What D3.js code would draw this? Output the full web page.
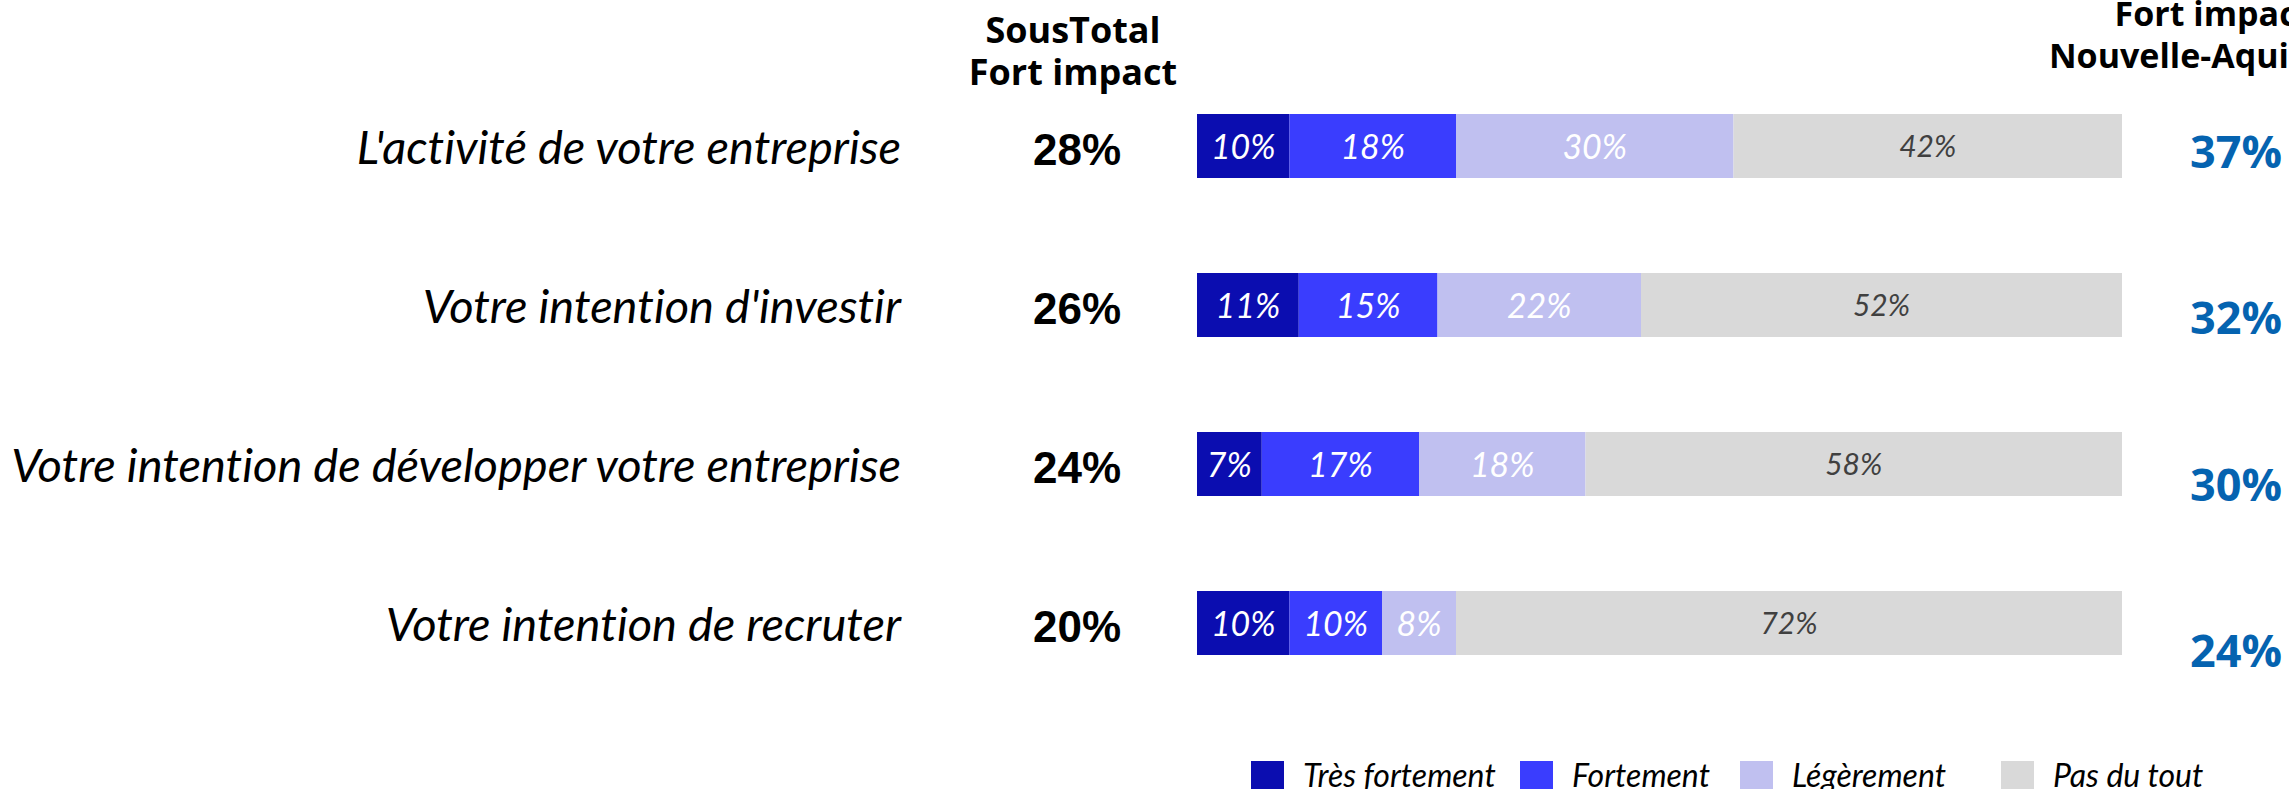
<!DOCTYPE html>
<html>
<head>
<meta charset="utf-8">
<script src="https://cdn.jsdelivr.net/npm/d3@7"></script>
<style>
  html, body { margin: 0; padding: 0; background: #fff; overflow: hidden; }
  svg { display: block; }
  text { font-variant-ligatures: none; font-feature-settings: "liga" 0; }
</style>
</head>
<body>
<svg id="chart" width="2289" height="789"></svg>
<script>
// ---- Data ----
const categories = [
  "L'activité de votre entreprise",
  "Votre intention d'investir",
  "Votre intention de développer votre entreprise",
  "Votre intention de recruter"
];
const seriesNames = ["Très fortement", "Fortement", "Légèrement", "Pas du tout"];
const tresFortement = [10, 11, 7, 10];
const fortement = [18, 15, 17, 10];
const legerement = [30, 22, 18, 8];
const pasDuTout = [42, 52, 58, 72];
const sousTotalFortImpact = [28, 26, 24, 20];
const fortImpactNouvelleAquitaine = [37, 32, 30, 24];
const colors = ["#0b0db0", "#3a3dfe", "#c0c0f0", "#d9d9d9"];
const labelColors = ["#ffffff", "#ffffff", "#ffffff", "#404040"];
const labelSizes = [34, 34, 34, 30];

// ---- Build table ----
const table = categories.map((c, i) => ({
  category: c,
  "Très fortement": tresFortement[i],
  "Fortement": fortement[i],
  "Légèrement": legerement[i],
  "Pas du tout": pasDuTout[i]
}));
const stacked = d3.stack().keys(seriesNames)(table);

const svg = d3.select("#chart");

const x = d3.scaleLinear().domain([0, 100]).range([1197, 2122]);
const y = d3.scaleBand().domain(categories).range([114, 655]).paddingInner(0.5975).paddingOuter(0);
const yRight = d3.scalePoint().domain(categories).range([168, 667]);

// ---- Bars ----
const layers = svg.append("g").selectAll("g.layer")
  .data(stacked).join("g")
  .attr("class", "layer")
  .attr("fill", (d, i) => colors[i]);

layers.selectAll("rect")
  .data(d => d.map(v => ({v, key: d.key})))
  .join("rect")
  .attr("x", d => x(d.v[0]))
  .attr("y", d => y(d.v.data.category))
  .attr("width", d => x(d.v[1]) - x(d.v[0]))
  .attr("height", y.bandwidth());

// segment labels
stacked.forEach((layer, li) => {
  svg.append("g").selectAll("text")
    .data(layer).join("text")
    .attr("x", d => (x(d[0]) + x(d[1])) / 2)
    .attr("y", d => y(d.data.category) + y.bandwidth() / 2 + (li < 3 ? 13 : 11))
    .attr("text-anchor", "middle")
    .attr("font-family", "Lato, sans-serif")
    .attr("font-style", "italic")
    .attr("font-size", labelSizes[li])
    .attr("fill", labelColors[li])
    .text(d => (d[1] - d[0]) + "%");
});

// ---- Category labels ----
svg.append("g").selectAll("text")
  .data(categories).join("text")
  .attr("x", 901)
  .attr("y", d => y(d) + y.bandwidth() / 2 + 18)
  .attr("text-anchor", "end")
  .attr("font-family", "Lato, sans-serif")
  .attr("font-style", "italic")
  .attr("font-size", 47)
  .attr("fill", "#000")
  .text(d => d);

// ---- Sous-total column ----
const hdr1 = svg.append("text")
  .attr("text-anchor", "middle")
  .attr("font-family", "'Open Sans', sans-serif")
  .attr("font-weight", 700).attr("font-size", 36).attr("fill", "#000");
hdr1.append("tspan").attr("x", 1073).attr("y", 43).text("SousTotal");
hdr1.append("tspan").attr("x", 1073).attr("y", 85).text("Fort impact");

svg.append("g").selectAll("text")
  .data(categories).join("text")
  .attr("x", 1077)
  .attr("y", d => y(d) + y.bandwidth() / 2 + 19)
  .attr("text-anchor", "middle")
  .attr("font-family", "'Liberation Sans', Arial, sans-serif")
  .attr("font-weight", 700)
  .attr("font-size", 44)
  .attr("fill", "#000")
  .text((d, i) => sousTotalFortImpact[i] + "%");

// ---- Nouvelle-Aquitaine column ----
const hdr2 = svg.append("text")
  .attr("text-anchor", "middle")
  .attr("font-family", "'Open Sans', sans-serif")
  .attr("font-weight", 700).attr("font-size", 34).attr("fill", "#000");
hdr2.append("tspan").attr("x", 2213).attr("y", 26).text("Fort impact");
hdr2.append("tspan").attr("x", 2213).attr("y", 68).text("Nouvelle-Aquitaine");

svg.append("g").selectAll("text")
  .data(categories).join("text")
  .attr("x", 2282)
  .attr("y", d => yRight(d))
  .attr("text-anchor", "end")
  .attr("font-family", "'Open Sans', sans-serif")
  .attr("font-weight", 700)
  .attr("font-size", 45)
  .attr("fill", "#0563b0")
  .text((d, i) => fortImpactNouvelleAquitaine[i] + "%");

// ---- Legend ----
const legendSquareX = [1251, 1520, 1740, 2001];
const legend = svg.append("g").selectAll("g")
  .data(seriesNames).join("g")
  .attr("transform", (d, i) => `translate(${legendSquareX[i]},761)`);
legend.append("rect")
  .attr("width", 33).attr("height", 33)
  .attr("fill", (d, i) => colors[i]);
legend.append("text")
  .attr("x", 52).attr("y", 26)
  .attr("font-family", "Lato, sans-serif")
  .attr("font-style", "italic")
  .attr("font-size", 32)
  .attr("fill", "#000")
  .text(d => d);
</script>
</body>
</html>
